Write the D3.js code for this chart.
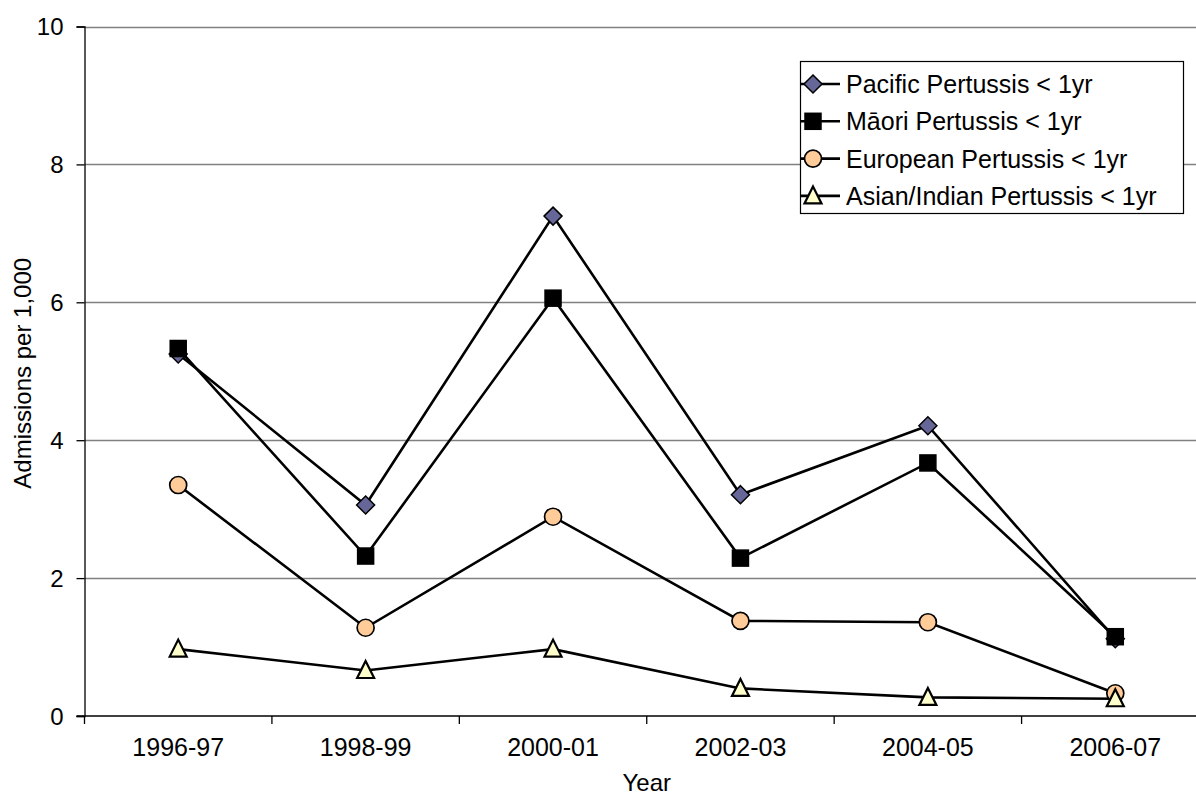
<!DOCTYPE html>
<html><head><meta charset="utf-8">
<script src="https://cdn.jsdelivr.net/npm/d3@7"></script>
<style>body{margin:0;background:#fff}svg{display:block}text{font-family:"Liberation Sans",Arial,sans-serif;fill:#000}</style>
</head><body><svg id="c" width="1196" height="796"></svg>
<script>
const categories = ["1996-97","1998-99","2000-01","2002-03","2004-05","2006-07"];
const pacific = [5.25, 3.06, 7.25, 3.21, 4.21, 1.12];
const maori = [5.33, 2.32, 6.06, 2.29, 3.67, 1.15];
const european = [3.35, 1.28, 2.89, 1.38, 1.36, 0.33];
const asian = [0.97, 0.66, 0.97, 0.40, 0.27, 0.25];
const yTicks = [0, 2, 4, 6, 8, 10];
const seriesNames = ["Pacific Pertussis < 1yr","Māori Pertussis < 1yr","European Pertussis < 1yr","Asian/Indian Pertussis < 1yr"];

const series = [
  {name: seriesNames[0], values: pacific, shape: "diamond", fill: "#666699"},
  {name: seriesNames[1], values: maori, shape: "square", fill: "#000000"},
  {name: seriesNames[2], values: european, shape: "circle", fill: "#FFCC99"},
  {name: seriesNames[3], values: asian, shape: "triangle", fill: "#FFFFCC"}
];

const FS = 24;
const svg = d3.select("#c");
const L = 84.5, R = 1209, T = 26.5, B = 716;
const x = d3.scaleBand().domain(categories).range([L, R]);
const y = d3.scaleLinear().domain([0, 10]).range([B, T]);

// gridlines
svg.append("g").selectAll("line").data(yTicks.filter(d => d > 0)).join("line")
  .attr("x1", L).attr("x2", R).attr("y1", d => Math.round(y(d)) + 0.5).attr("y2", d => Math.round(y(d)) + 0.5)
  .attr("stroke", "#808080").attr("stroke-width", 1.3);

// y axis
const yAxis = svg.append("g").attr("transform", `translate(${L},0)`)
  .call(d3.axisLeft(y).tickValues(yTicks).tickSize(8).tickPadding(13).tickFormat(d3.format("d")));
yAxis.select(".domain").attr("stroke", "#000").attr("stroke-width", 1.3);
yAxis.selectAll(".tick line").attr("stroke", "#000").attr("stroke-width", 1.3);
yAxis.selectAll("text").attr("font-size", FS).attr("dy", "0.35em").style("font-family", '"Liberation Sans",Arial,sans-serif');

// x axis
const xg = svg.append("g").attr("transform", `translate(0,${B})`);
xg.append("line").attr("x1", L - 8).attr("x2", R).attr("y1", 0).attr("y2", 0).attr("stroke", "#000").attr("stroke-width", 1.3);
const bounds = categories.map(c => x(c)).concat([R]);
xg.selectAll("line.tk").data(bounds).join("line").attr("class", "tk")
  .attr("x1", d => d).attr("x2", d => d).attr("y1", 0).attr("y2", 8).attr("stroke", "#000").attr("stroke-width", 1.3);
xg.selectAll("text").data(categories).join("text")
  .attr("x", d => x(d) + x.bandwidth() / 2).attr("y", 40).attr("text-anchor", "middle").attr("font-size", 25).text(d => d);

// axis titles
svg.append("text").attr("x", x("2000-01") + x.bandwidth()).attr("y", 791).attr("text-anchor", "middle").attr("font-size", FS).text("Year");
svg.append("text").attr("transform", `translate(31,${(T + B) / 2 + 2}) rotate(-90)`).attr("text-anchor", "middle").attr("font-size", FS).text("Admissions per 1,000");

function marker(g, shape, fill) {
  if (shape === "diamond") {
    g.append("path").attr("d", "M0,-9L9,0L0,9L-9,0Z").attr("fill", fill).attr("stroke", "#000").attr("stroke-width", 1.5);
  } else if (shape === "square") {
    g.append("rect").attr("x", -8).attr("y", -8).attr("width", 16).attr("height", 16).attr("fill", fill).attr("stroke", "#000").attr("stroke-width", 1.5);
  } else if (shape === "circle") {
    g.append("circle").attr("r", 8.5).attr("fill", fill).attr("stroke", "#000").attr("stroke-width", 1.7);
  } else {
    g.append("path").attr("d", "M0,-9.5L8.5,7.5L-8.5,7.5Z").attr("fill", fill).attr("stroke", "#000").attr("stroke-width", 2.2).attr("stroke-linejoin", "miter");
  }
}

const cx = c => x(c) + x.bandwidth() / 2;
const line = d3.line().x((d, i) => cx(categories[i])).y(d => y(d));

series.forEach(s => {
  svg.append("path").datum(s.values).attr("d", line).attr("fill", "none").attr("stroke", "#000").attr("stroke-width", 2.6);
});
series.forEach(s => {
  s.values.forEach((v, i) => {
    const g = svg.append("g").attr("transform", `translate(${cx(categories[i])},${y(v)})`);
    marker(g, s.shape, s.fill);
  });
});

// legend
const lg = svg.append("g");
lg.append("rect").attr("x", 800.5).attr("y", 61.5).attr("width", 383).attr("height", 152).attr("fill", "#fff").attr("stroke", "#000").attr("stroke-width", 1.2);
series.forEach((s, i) => {
  const yy = 84 + i * 37.3;
  lg.append("line").attr("x1", 801).attr("x2", 840).attr("y1", yy).attr("y2", yy).attr("stroke", "#000").attr("stroke-width", 2.6);
  const g = lg.append("g").attr("transform", `translate(813,${yy})`);
  marker(g, s.shape, s.fill);
  lg.append("text").attr("x", 846).attr("y", yy + 9).attr("font-size", 25).text(s.name);
});
</script></body></html>
